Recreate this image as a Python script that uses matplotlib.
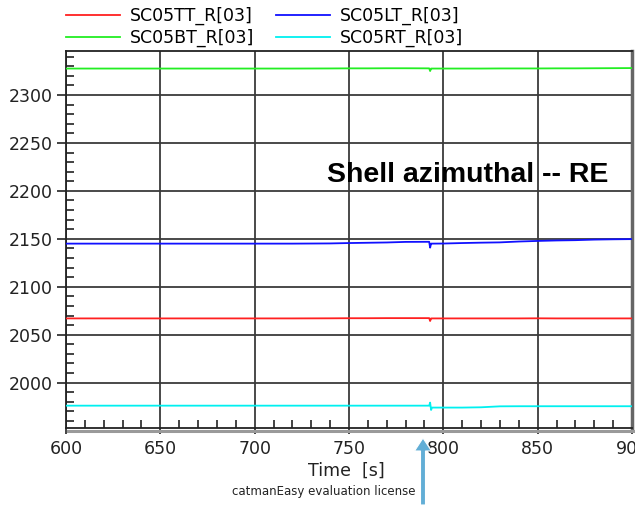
import matplotlib.pyplot as plt
from matplotlib.lines import Line2D
from matplotlib.patches import FancyArrow
from matplotlib.ticker import MultipleLocator
from matplotlib.transforms import IdentityTransform

# 采样时间 (s)
time_s = [600, 620, 640, 660, 680, 700, 720, 740, 750, 760, 770, 780,
          792.5, 793, 793.5, 794, 800, 810, 820, 830, 840, 850, 860, 870,
          880, 890, 900]

# 各通道读数
sc05tt = [2067.0, 2067.0, 2067.0, 2067.0, 2067.0, 2067.0, 2067.0, 2067.1,
          2067.2, 2067.2, 2067.3, 2067.3, 2067.3, 2064.3, 2067.0, 2067.0,
          2067.0, 2067.0, 2067.0, 2067.0, 2067.0, 2067.1, 2067.0, 2067.0,
          2067.0, 2067.0, 2067.0]
sc05bt = [2327.6, 2327.6, 2327.6, 2327.6, 2327.6, 2327.6, 2327.6, 2327.7,
          2327.8, 2327.8, 2327.9, 2327.9, 2327.8, 2325.0, 2327.6, 2327.6,
          2327.6, 2327.6, 2327.6, 2327.7, 2327.7, 2327.7, 2327.8, 2327.8,
          2327.9, 2328.0, 2328.1]
sc05lt = [2145.0, 2145.0, 2145.0, 2145.0, 2145.0, 2145.0, 2145.0, 2145.2,
          2145.6, 2145.9, 2146.2, 2146.8, 2146.9, 2140.8, 2145.0, 2145.0,
          2145.1, 2145.6, 2146.0, 2146.3, 2147.2, 2147.8, 2148.3, 2148.6,
          2149.2, 2149.5, 2149.7]
sc05rt = [1976.0, 1976.0, 1976.0, 1976.0, 1976.0, 1976.0, 1976.0, 1976.0,
          1976.0, 1976.0, 1976.0, 1976.0, 1976.0, 1979.2, 1971.5, 1974.0,
          1974.0, 1974.0, 1974.3, 1975.3, 1975.4, 1975.4, 1975.4, 1975.4,
          1975.4, 1975.4, 1975.4]

series = [('SC05TT_R[03]', sc05tt, '#ff2020'),
          ('SC05BT_R[03]', sc05bt, '#22ee22'),
          ('SC05LT_R[03]', sc05lt, '#1010ff'),
          ('SC05RT_R[03]', sc05rt, '#00f0f0')]

fig = plt.figure(figsize=(6.35, 5.05), dpi=100)
ax = fig.add_axes([66 / 635, 1 - 428 / 505, 566 / 635, 377 / 505])

for name, vals, col in series:
    ax.plot(time_s, vals, color=col, lw=1.3, label=name, zorder=3)

ax.set_xlim(600, 900)
ax.set_ylim(1952.7, 2345.9)
ax.xaxis.set_major_locator(MultipleLocator(50))
ax.xaxis.set_minor_locator(MultipleLocator(10))
ax.yaxis.set_major_locator(MultipleLocator(50))
ax.yaxis.set_minor_locator(MultipleLocator(10))
ax.grid(True, which='major', color='#3a3a3a', lw=1.3, zorder=2)

ax.tick_params(axis='x', which='major', direction='out', length=4, width=1.2,
               pad=5, labelsize=12.5, colors='#222222')
ax.tick_params(axis='x', which='minor', direction='in', length=6, width=1.2,
               color='#222222')
ax.tick_params(axis='y', which='major', direction='out', length=6.5, width=1.2,
               pad=3, labelsize=12.5, colors='#222222')
ax.tick_params(axis='y', which='minor', direction='in', length=6, width=1.2,
               color='#222222')

for s in ['left', 'bottom', 'top']:
    ax.spines[s].set_color('#222222')
    ax.spines[s].set_linewidth(1.3)
ax.spines['right'].set_color('#666666')
ax.spines['right'].set_linewidth(2.5)

# 坐标框阴影
ident = IdentityTransform()
fig.add_artist(Line2D([68, 635], [505 - 430.5, 505 - 430.5], transform=ident,
                      color='#9a9a9a', lw=2.2))

fig.text(346 / 635, 1 - 471 / 505, 'Time  [s]', ha='center', va='center',
         fontsize=12.5, color='#222222')
fig.text(324 / 635, 1 - 492 / 505, 'catmanEasy evaluation license',
         ha='center', va='center', fontsize=8.5, color='#222222')

fig.text(327 / 635, 1 - 175 / 505, 'Shell azimuthal -- RE', ha='left',
         va='center', fontsize=20.5, fontweight='bold',
         family='Liberation Sans', color='black')

fig.legend(loc='upper left', bbox_to_anchor=(66 / 635, 1 - 7 / 505), ncol=2,
           frameon=False, fontsize=12.5, handlelength=3.1, handletextpad=0.58,
           columnspacing=1.27, labelspacing=0.22, borderpad=0, borderaxespad=0)

# 标注箭头
fig.add_artist(FancyArrow(423, 0, 0, 505 - 438 - 13, width=5, head_width=17,
                          head_length=13, length_includes_head=False,
                          transform=ident, color='#62aed6', ec='white',
                          lw=0.8, zorder=10))

fig.savefig('out.png', dpi=100)
